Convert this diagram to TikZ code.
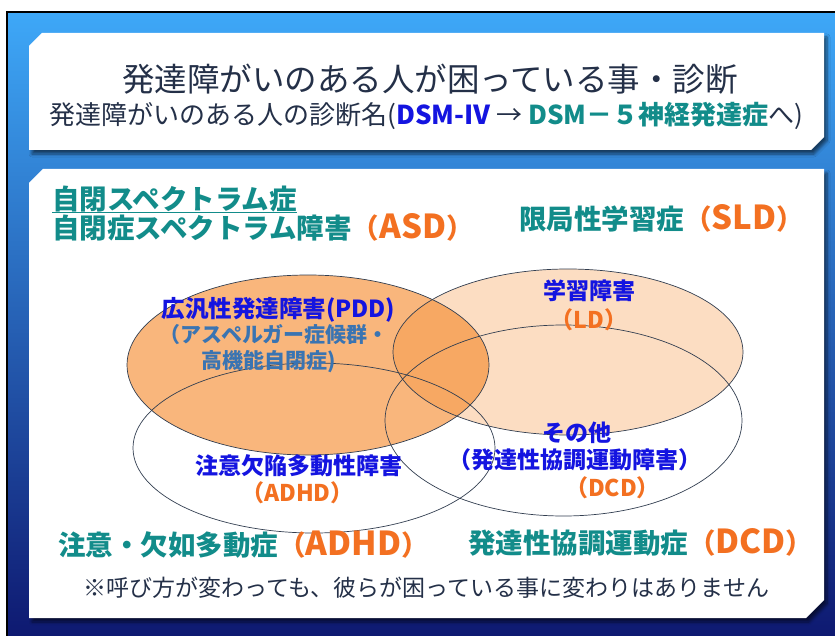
\documentclass[tikz,border=0pt]{standalone}
\usepackage{fontspec}
\setmainfont{Noto Sans CJK JP}
\usetikzlibrary{shadows.blur}
\definecolor{bgtop}{RGB}{62,168,248}
\definecolor{bgmid}{RGB}{34,108,210}
\definecolor{bgbot}{RGB}{14,24,112}
\definecolor{titlec}{RGB}{36,48,72}
\definecolor{tealc}{RGB}{18,140,138}
\definecolor{orangec}{RGB}{243,112,33}
\definecolor{bluec}{RGB}{20,20,224}
\definecolor{steelc}{RGB}{58,116,178}
\definecolor{ellfill}{RGB}{245,134,37}
\definecolor{ellline}{RGB}{50,62,80}
\newcommand\fsz[1]{\fontsize{#1pt}{#1pt}\selectfont}
\newcommand\abbr[1]{\textcolor{orangec}{（{\fsz{33}#1}）}}
\begin{document}
\begin{tikzpicture}[x=1pt,y=-1pt,
  txt/.style={inner sep=0pt, anchor=base},
  txtw/.style={inner sep=0pt, anchor=base west},
  panel/.style={fill=white, blur shadow={shadow xshift=3pt, shadow yshift=-4pt, shadow blur steps=6, shadow blur radius=3pt, shadow opacity=55}},
  venn/.style={draw=ellline, line width=0.7pt},
  head/.style={txtw, text=tealc, font=\fsz{27.5}\bfseries},
  inb/.style={txt, text=bluec, font=\fsz{23}\bfseries},
  ino/.style={txt, text=orangec, font=\fsz{23}\bfseries}]
\useasboundingbox (0,0) rectangle (835,636);
% background
\shade[top color=bgtop, middle color=bgmid, bottom color=bgbot] (7,12) rectangle (838,640);
\draw[line width=1.5pt, black] (7,640) -- (7,12) -- (838,12);
% panels
\path[panel] (29,46) -- (42,33) -- (824,33) -- (824,137) -- (811,150) -- (29,150) -- cycle;
\path[panel] (29,183) -- (43,169) -- (824,169) -- (824,600) -- (806,618) -- (29,618) -- cycle;
% title
\node[txt, text=titlec, font=\fsz{32.5}] (title1) at (430,91.4) {発達障がいのある人が困っている事・診断};
\node[txt, text=titlec, font=\fsz{26}] (title2) at (426.5,124.9) {発達障がいのある人の診断名({\bfseries\color{bluec}DSM-Ⅳ} → {\bfseries\color{tealc}DSM－５神経発達症}へ)};
% venn fills
\fill[ellfill, opacity=0.6] (308,365) ellipse [x radius=181pt, y radius=90pt];
\fill[ellfill, opacity=0.28] (568,352) ellipse [x radius=175pt, y radius=83pt];
% venn outlines
\draw[venn] (308,365) ellipse [x radius=181pt, y radius=90pt];
\draw[venn] (568,352) ellipse [x radius=175pt, y radius=83pt];
\draw[venn] (314,448) ellipse [x radius=181pt, y radius=85pt];
\draw[venn] (563.5,420.5) ellipse [x radius=178.5pt, y radius=95.5pt];
% headings
\node[head] (asd1) at (52,209.5) {自閉スペクトラム症};
\draw[tealc, line width=1.4pt] ([yshift=-3pt]asd1.base west) -- ([yshift=-3pt]asd1.base east);
\node[head] (asd2) at (52,239) {自閉症スペクトラム障害\abbr{ASD}};
\node[head] (sld) at (519,230) {限局性学習症\abbr{SLD}};
\node[head] (adhd) at (58,555.5) {注意・欠如多動症\abbr{ADHD}};
\node[head] (dcd) at (468,553.5) {発達性協調運動症\abbr{DCD}};
\node[txt, text=titlec, font=\fsz{23}] (note) at (426.5,596.7) {※呼び方が変わっても、彼らが困っている事に変わりはありません};
% venn labels
\node[txt, text=bluec, font=\fsz{23.5}\bfseries] (pdd) at (278.5,317) {広汎性発達障害(PDD)};
\node[txt, text=steelc, font=\fsz{21}\bfseries] (asp1) at (274,342) {（アスペルガー症候群・};
\node[txtw, text=steelc, font=\fsz{21}\bfseries] (asp2) at (201,368) {高機能自閉症)};
\node[inb] (adhdin) at (298.5,474.7) {注意欠陥多動性障害};
\node[ino] (adhdab) at (297.5,501.2) {（ADHD）};
\node[inb] (ld) at (589,299.7) {学習障害};
\node[ino] (ldab) at (589,328.7) {（LD）};
\node[inb] (other) at (576.5,441.2) {その他};
\node[inb] (dcdin) at (575,468.7) {（発達性協調運動障害）};
\node[ino] (dcdab) at (612.5,496.2) {（DCD）};
\end{tikzpicture}
\end{document}
